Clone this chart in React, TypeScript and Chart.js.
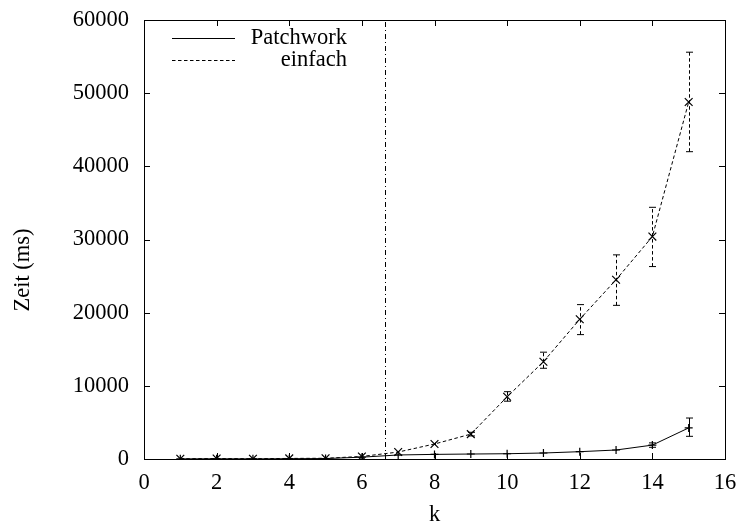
import React, { useEffect, useRef } from "react";
import { Chart, registerables } from "chart.js";

Chart.register(...registerables);

const kValues = [1, 2, 3, 4, 5, 6, 7, 8, 9, 10, 11, 12, 13, 14, 15];

const patchwork = [20, 30, 20, 40, 60, 250, 550, 630, 680, 720, 820, 1000, 1230, 1900, 4250];
const patchworkLow = [10, 20, 10, 30, 50, 220, 520, 600, 650, 680, 770, 950, 1130, 1600, 3100];
const patchworkHigh = [30, 40, 30, 50, 70, 280, 580, 660, 710, 760, 870, 1050, 1330, 2200, 5600];

const einfach = [30, 60, 40, 80, 100, 350, 950, 2050, 3400, 8500, 13300, 19100, 24500, 30400, 48800];
const einfachLow = [20, 40, 30, 60, 80, 300, 850, 1900, 3150, 7900, 12400, 17000, 21000, 26300, 42000];
const einfachHigh = [40, 80, 50, 100, 120, 400, 1050, 2250, 3650, 9200, 14600, 21100, 27900, 34400, 55600];

const xTicks = [0, 2, 4, 6, 8, 10, 12, 14, 16];
const yTicks = [0, 10000, 20000, 30000, 40000, 50000, 60000];
const markerK = 6.65;
const seriesLabels = ["Patchwork", "einfach"];
const xTitle = "k";
const yTitle = "Zeit (ms)";

const FONT = "Liberation Serif";
const FS = 22.5;

const decorPlugin = {
  id: "decor",
  afterDatasetsDraw(chart: any) {
    const ctx = chart.ctx as CanvasRenderingContext2D;
    const xs = chart.scales.x;
    const ys = chart.scales.y;
    const { left, right, top, bottom } = chart.chartArea;

    ctx.save();
    ctx.strokeStyle = "#000";
    ctx.lineWidth = 1;

    // error bars
    const drawErr = (lows: number[], highs: number[], dash: number[]) => {
      ctx.setLineDash(dash);
      for (let i = 0; i < kValues.length; i++) {
        const x = Math.round(xs.getPixelForValue(kValues[i])) + 0.5;
        const y1 = ys.getPixelForValue(lows[i]);
        const y2 = ys.getPixelForValue(highs[i]);
        ctx.beginPath();
        ctx.moveTo(x, y1);
        ctx.lineTo(x, y2);
        ctx.stroke();
        if (Math.abs(y1 - y2) > 3) {
          ctx.setLineDash([]);
          ctx.beginPath();
          ctx.moveTo(x - 3.5, y1);
          ctx.lineTo(x + 3.5, y1);
          ctx.moveTo(x - 3.5, y2);
          ctx.lineTo(x + 3.5, y2);
          ctx.stroke();
          ctx.setLineDash(dash);
        }
      }
    };
    drawErr(patchworkLow, patchworkHigh, []);
    drawErr(einfachLow, einfachHigh, [3.5, 2.5]);

    // vertical dash-dot marker
    ctx.setLineDash([5, 3, 1, 3]);
    const mx = Math.round(xs.getPixelForValue(markerK)) + 0.5;
    ctx.beginPath();
    ctx.moveTo(mx, bottom);
    ctx.lineTo(mx, top);
    ctx.stroke();
    ctx.setLineDash([]);

    // frame
    ctx.strokeRect(Math.round(left) + 0.5, Math.round(top) + 0.5, Math.round(right - left), Math.round(bottom - top));

    // inward ticks
    const tl = 6;
    ctx.beginPath();
    for (const t of xTicks) {
      const x = Math.round(xs.getPixelForValue(t)) + 0.5;
      ctx.moveTo(x, bottom);
      ctx.lineTo(x, bottom - tl);
      ctx.moveTo(x, top);
      ctx.lineTo(x, top + tl);
    }
    for (const t of yTicks) {
      const y = Math.round(ys.getPixelForValue(t)) + 0.5;
      ctx.moveTo(left, y);
      ctx.lineTo(left + tl, y);
      ctx.moveTo(right, y);
      ctx.lineTo(right - tl, y);
    }
    ctx.stroke();

    // legend
    ctx.font = `${FS}px "${FONT}"`;
    ctx.fillStyle = "#000";
    ctx.textAlign = "right";
    ctx.textBaseline = "middle";
    const rows = [
      { label: seriesLabels[0], dash: [] as number[], y: 38 },
      { label: seriesLabels[1], dash: [3.5, 2.5], y: 60 },
    ];
    for (const r of rows) {
      ctx.setLineDash(r.dash);
      ctx.beginPath();
      ctx.moveTo(172, r.y + 0.5);
      ctx.lineTo(235, r.y + 0.5);
      ctx.stroke();
      ctx.setLineDash([]);
      ctx.fillText(r.label, 347, r.y);
    }

    // axis titles
    ctx.textAlign = "center";
    ctx.fillText(xTitle, (left + right) / 2, 515);
    ctx.save();
    ctx.translate(23, 270);
    ctx.rotate(-Math.PI / 2);
    ctx.fillText(yTitle, 0, 0);
    ctx.restore();

    ctx.restore();
  },
};

export default function App() {
  const ref = useRef<HTMLCanvasElement | null>(null);

  useEffect(() => {
    document.body.style.margin = "0";
    const canvas = ref.current!;
    const chart = new Chart(canvas, {
      type: "line",
      data: {
        datasets: [
          {
            label: seriesLabels[0],
            data: kValues.map((k, i) => ({ x: k, y: patchwork[i] })),
            borderColor: "#000",
            backgroundColor: "#000",
            borderWidth: 1,
            pointStyle: "cross",
            pointRadius: 4,
            pointBorderWidth: 1.2,
            pointBorderColor: "#000",
            tension: 0,
            fill: false,
          },
          {
            label: seriesLabels[1],
            data: kValues.map((k, i) => ({ x: k, y: einfach[i] })),
            borderColor: "#000",
            backgroundColor: "#000",
            borderWidth: 1,
            borderDash: [3.5, 2.5],
            pointStyle: "crossRot",
            pointRadius: 5.5,
            pointBorderWidth: 1.2,
            pointBorderColor: "#000",
            tension: 0,
            fill: false,
          },
        ],
      },
      options: {
        animation: false,
        responsive: false,
        maintainAspectRatio: false,
        layout: { padding: { top: 20, right: 17, left: 0, bottom: 0 } },
        plugins: {
          legend: { display: false },
          tooltip: { enabled: false },
        },
        scales: {
          x: {
            type: "linear",
            min: 0,
            max: 16,
            afterBuildTicks: (s: any) => {
              s.ticks = xTicks.map((v) => ({ value: v }));
            },
            afterFit: (s: any) => {
              s.height = 72;
              s.paddingLeft = 0;
              s.paddingRight = 0;
            },
            grid: { display: false, drawTicks: false },
            border: { display: false },
            ticks: {
              color: "#000",
              font: { family: FONT, size: FS },
              padding: 11,
              maxRotation: 0,
              autoSkip: false,
            },
          },
          y: {
            type: "linear",
            min: 0,
            max: 60000,
            afterBuildTicks: (s: any) => {
              s.ticks = yTicks.map((v) => ({ value: v }));
            },
            afterFit: (s: any) => {
              s.width = 144;
              s.paddingTop = 0;
              s.paddingBottom = 0;
            },
            grid: { display: false, drawTicks: false },
            border: { display: false },
            ticks: {
              color: "#000",
              font: { family: FONT, size: FS },
              padding: 15,
              autoSkip: false,
              callback: (v: any) => String(v),
            },
          },
        },
      },
      plugins: [decorPlugin],
    });
    return () => chart.destroy();
  }, []);

  return (
    <div style={{ width: 742, height: 531 }}>
      <canvas ref={ref} width={742} height={531} style={{ display: "block", width: 742, height: 531 }} />
    </div>
  );
}
